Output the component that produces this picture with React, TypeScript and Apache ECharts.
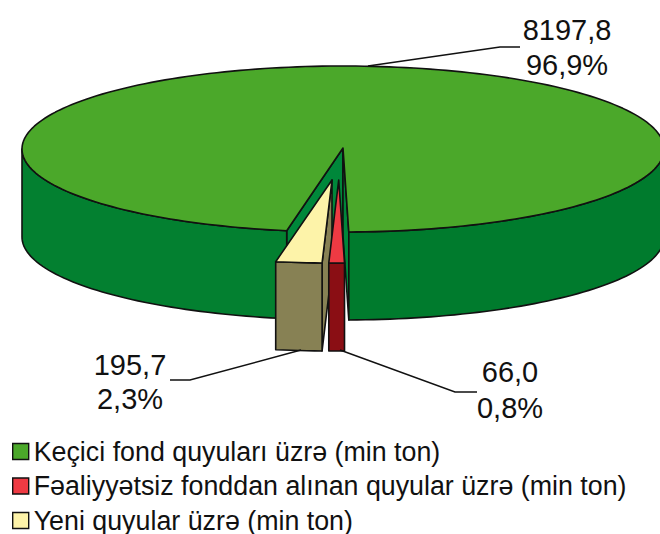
import React, { useEffect, useRef } from "react";
import * as echarts from "echarts";

const categories = [
  "Keçici fond quyuları üzrə (min ton)",
  "Fəaliyyətsiz fonddan alınan quyular üzrə (min ton)",
  "Yeni quyular üzrə (min ton)",
];
const values = [8197.8, 66.0, 195.7];
const topColors = ["#4BA82A", "#EE3A43", "#FDF3A9"];

const total = values.reduce((a, b) => a + b, 0);
const CX = 343, CY = 149, RX = 321, RY = 83, DEPTH = 88;
const START_DEG = 10.1;
const FONT = "Liberation Sans, Arial, sans-serif";
const STROKE = "#111";
const LW = 1.6;

const fmtValue = (v: number) => v.toFixed(1).replace(".", ",");
const fmtPct = (v: number) => ((v / total) * 100).toFixed(1).replace(".", ",") + "%";

function sliceRange(idx: number): [number, number] {
  let acc = 0;
  for (let i = 0; i < idx; i++) acc += values[i];
  const a0 = START_DEG + (acc / total) * 360;
  return [a0, a0 + (values[idx] / total) * 360];
}
function pt(deg: number, ox: number, oy: number, drop = 0): number[] {
  const r = (deg * Math.PI) / 180;
  return [CX + ox - RX * Math.sin(r), CY + oy + RY * Math.cos(r) + drop];
}
function arc(a0: number, a1: number, ox: number, oy: number, drop = 0): number[][] {
  const n = Math.max(2, Math.ceil(Math.abs(a1 - a0) / 1.5));
  const out: number[][] = [];
  for (let i = 0; i <= n; i++) out.push(pt(a0 + ((a1 - a0) * i) / n, ox, oy, drop));
  return out;
}
const poly = (points: number[][], fill: string) => ({
  type: "polygon",
  shape: { points },
  style: { fill, stroke: STROKE, lineWidth: LW, lineJoin: "round" },
});
const wall = (a0: number, a1: number, ox: number, oy: number, fill: string) =>
  poly([...arc(a0, a1, ox, oy), ...arc(a1, a0, ox, oy, DEPTH)], fill);
const line = (points: number[][]) => ({
  type: "polyline",
  shape: { points },
  style: { fill: "none", stroke: STROKE, lineWidth: 1.4 },
});
const label = (x: number, y: number, text: string) => ({
  type: "text",
  x,
  y,
  style: { text, fill: "#111", font: `29px ${FONT}`, textAlign: "center", textVerticalAlign: "middle" },
});

function renderGreen() {
  const [a0, a1] = sliceRange(0);
  const apex = [CX, CY - 1];
  const apexLow = [CX, CY - 1 + DEPTH];
  const left = pt(a0, 0, 0);
  const right = pt(a1, 0, 0);
  return {
    type: "group",
    children: [
      poly([apex, left, [left[0], left[1] + DEPTH], apexLow], "#00873A"),
      poly([apex, right, [right[0], right[1] + DEPTH], apexLow], "#00873A"),
      wall(a0, 90, 0, 0, "#038030"),
      wall(270, a1, 0, 0, "#007B2D"),
      poly([apex, ...arc(a0, a1, 0, 0)], topColors[0]),
      line([[368, 66], [500, 47], [520, 47]]),
      label(567, 30, fmtValue(values[0])),
      label(567, 65, fmtPct(values[0])),
    ],
  };
}
function renderYellow() {
  const [a0, a1] = sliceRange(2);
  const ox = -11, oy = 31;
  const apex = [CX + ox, CY + oy];
  const fr = pt(a0, ox, oy);
  return {
    type: "group",
    children: [
      poly([apex, fr, [fr[0], fr[1] + DEPTH], [apex[0], apex[1] + DEPTH]], "#878154"),
      wall(a0, a1, ox, oy, "#878154"),
      poly([apex, ...arc(a0, a1, ox, oy)], topColors[2]),
      line([[301, 350], [190, 380], [170, 380]]),
      label(130, 365, fmtValue(values[2])),
      label(130, 399, fmtPct(values[2])),
    ],
  };
}
function renderRed() {
  const [a0, a1] = sliceRange(1);
  const ox = -4.3, oy = 31;
  const apex = [CX + ox, CY + oy];
  return {
    type: "group",
    children: [
      wall(a0, a1, ox, oy, "#8A0E14"),
      poly([apex, ...arc(a0, a1, ox, oy)], topColors[1]),
      line([[340, 350], [455, 392], [477, 392]]),
      label(510, 372, fmtValue(values[1])),
      label(510, 408, fmtPct(values[1])),
    ],
  };
}

export default function App() {
  const ref = useRef<HTMLDivElement>(null);
  useEffect(() => {
    document.body.style.margin = "0";
    const chart = echarts.init(ref.current!, null, { renderer: "svg" });
    const mk = (idx: number, renderItem: any) => ({
      type: "custom",
      name: categories[idx],
      coordinateSystem: "none",
      silent: true,
      data: [values[idx]],
      itemStyle: { color: topColors[idx] },
      renderItem,
    });
    chart.setOption({
      animation: false,
      legend: {
        orient: "vertical",
        left: 12,
        top: 438,
        bottom: 0,
        padding: 0,
        itemWidth: 16,
        itemHeight: 16,
        itemGap: 7.5,
        icon: "rect",
        itemStyle: { borderColor: "#111", borderWidth: 1.4 },
        textStyle: { fontFamily: FONT, fontSize: 26.8, color: "#111", lineHeight: 27 },
        data: categories,
        selectedMode: false,
      },
      series: [mk(0, renderGreen), mk(2, renderYellow), mk(1, renderRed)],
    });
    return () => chart.dispose();
  }, []);
  return <div ref={ref} style={{ width: 660, height: 534 }} />;
}
